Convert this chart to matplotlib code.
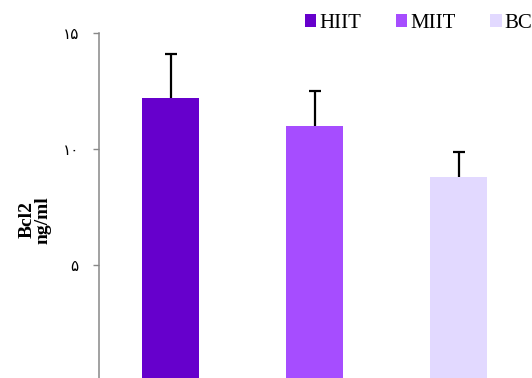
import matplotlib.pyplot as plt
from matplotlib.patches import Patch

# Bcl2 (ng/ml) per training group, mean and SD
groups = ['HIIT', 'MIIT', 'BC']
means = [12.2, 11.0, 8.8]
sds = [1.9, 1.5, 1.1]
colors = ['#6600cc', '#a64dff', '#e2d9ff']

yticks = [5, 10, 15]
ytick_labels = ['۵', '۱۰', '۱۵']

fig = plt.figure(figsize=(5.32, 3.78), dpi=100)
ax = fig.add_axes([0.1855, -0.0087, 0.812, 0.9206])

x = list(range(len(groups)))
ax.bar(x, means, width=0.4, color=colors, zorder=2)

# only the upper half of the error bar is shown
eb = ax.errorbar(x, means, yerr=[[0] * len(sds), sds], fmt='none', ecolor='black',
                 elinewidth=1.6, capsize=4, capthick=1.6, zorder=3)
eb[1][0].set_visible(False)

ax.set_xlim(-0.5, 2.5)
ax.set_ylim(0, 15)
ax.set_xticks([])
ax.set_yticks(yticks)
ax.set_yticklabels(ytick_labels, family=['DejaVu Sans'], fontsize=11)
ax.tick_params(axis='y', length=4.3, width=1, color='#888888', pad=10)

for side in ['top', 'right', 'bottom']:
    ax.spines[side].set_visible(False)
ax.spines['left'].set_color('#888888')
ax.spines['left'].set_linewidth(1.1)

# y label, two tight lines
fig.text(35 / 532, 1 - 220 / 378, 'Bcl2\nng/ml', rotation=90, ha='center', va='center',
         multialignment='center', linespacing=0.85,
         family='Liberation Serif', fontweight='bold', fontsize=14)

handles = [Patch(facecolor=c, edgecolor='none', label=g) for c, g in zip(colors, groups)]
fig.legend(handles=handles, loc='upper left', bbox_to_anchor=(305 / 532, 1 - 14 / 378),
           ncol=3, frameon=False, borderpad=0, borderaxespad=0,
           handlelength=0.55, handleheight=0.55, handletextpad=0.15,
           columnspacing=1.65, prop={'family': 'Liberation Serif', 'size': 15})

fig.savefig('out.png', dpi=100)
